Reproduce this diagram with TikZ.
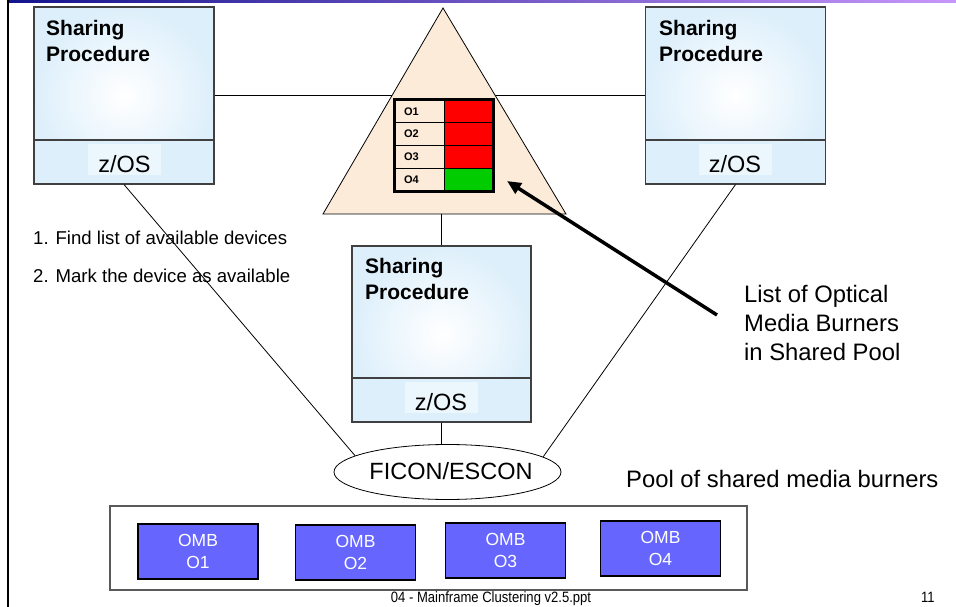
\documentclass[tikz,border=0pt]{standalone}
\usepackage{fontspec}
\setmainfont{Liberation Sans}
\usetikzlibrary{shapes.geometric,arrows.meta}
\definecolor{boxblue}{RGB}{221,239,251}
\definecolor{zosblue}{RGB}{235,246,253}
\definecolor{peach}{RGB}{253,235,218}
\definecolor{ombblue}{RGB}{102,102,255}
\definecolor{okgreen}{RGB}{0,204,0}
\definecolor{barnavy}{RGB}{20,20,140}
\definecolor{barsky}{RGB}{150,205,250}
\definecolor{barviolet}{RGB}{200,150,250}

\begin{document}
\begin{tikzpicture}[x=1bp, y=-1bp]
    \tikzstyle{proc}=[rectangle, draw=black!75, line width=1.1bp, minimum width=180bp, minimum height=177bp, inner color=white, outer color=boxblue]
    \tikzstyle{os}=[rectangle, draw=black!75, line width=1.1bp, fill=boxblue, minimum width=180bp, minimum height=44bp]
    \tikzstyle{os-label}=[fill=zosblue, anchor=south, minimum width=73bp, text height=29bp, text depth=2bp, inner ysep=0pt, font=\fontsize{23.5bp}{28bp}\selectfont]
    \tikzstyle{proc-label}=[anchor=north west, align=left, inner sep=0pt, font=\fontsize{21bp}{26bp}\selectfont\bfseries]
    \tikzstyle{cell}=[rectangle, draw=black, line width=1bp, minimum width=49bp, minimum height=22.75bp, inner sep=0pt]
    \tikzstyle{omb}=[rectangle, draw=black, line width=1.2bp, fill=ombblue, text=white, minimum width=120bp, minimum height=55bp, align=center, font=\fontsize{17.5bp}{22bp}\selectfont]
    \tikzstyle{note}=[anchor=base west, inner sep=0pt, font=\fontsize{18.6bp}{21bp}\selectfont]
    \tikzstyle{big-note}=[anchor=north west, inner sep=0pt, align=left, font=\fontsize{23.8bp}{29bp}\selectfont]
    \tikzstyle{link}=[black, line width=0.8bp]
    \useasboundingbox (0,0) rectangle (956,607);
    % \draw[help lines, step=50] (0,0) grid (956,607);

    \shade[left color=barnavy, middle color=barsky, right color=barviolet] (9,0) rectangle (956,2.5);
    \draw[line width=2.5bp] (8,0) -- (8,607);

    \node[proc] (left) at (124,95.5) {};
    \node[proc] (right) at (735.5,95.5) {};
    \node[proc, minimum width=179bp, minimum height=176bp] (mid) at (441.5,334) {};
    \node[os] (left-os) at (124,162) {};
    \node[os] (right-os) at (735.5,162) {};
    \node[os, minimum width=179bp] (mid-os) at (441.5,400) {};
    \node[os-label] (left-zos) at (124.5,175) {z/OS};
    \node[os-label] (right-zos) at (735,175) {z/OS};
    \node[os-label] (mid-zos) at (441,413) {z/OS};
    \node[proc-label] (left-title) at (46,20) {Sharing\\Procedure};
    \node[proc-label] (right-title) at (659,20) {Sharing\\Procedure};
    \node[proc-label] (mid-title) at (365,258) {Sharing\\Procedure};

    \draw[link] (left.east) -- (right.west);
    \filldraw[fill=peach, draw=black, line width=0.8bp] (443,8) -- (566,214) -- (323,214) -- cycle;
    \coordinate (tri-base) at (441.5,214);

    \foreach \name/\state [count=\i] in {O1/red, O2/red, O3/red, O4/okgreen} {
        \node[cell, fill=peach, text width=31bp, inner xsep=9bp, align=left, font=\fontsize{11bp}{13bp}\selectfont\bfseries] (tag\i) at (419.5,88.625+22.75*\i) {\name};
        \node[cell, fill=\state] (state\i) at (468.5,88.625+22.75*\i) {};
    }
    \draw[line width=3bp] (tag1.north west) rectangle (state4.south east);

    \node[ellipse, draw=black, line width=0.8bp, fill=white, minimum width=227bp, minimum height=55bp, inner sep=0pt] (bus) at (447.5,472) {};
    \node[font=\fontsize{23.5bp}{28bp}\selectfont, inner sep=0pt] (bus-label) at (451,471.5) {FICON/ESCON};

    \draw[link] (tri-base) -- (mid.north);
    \draw[link] (mid-os.south) -- (mid-os.south |- bus.north);
    \draw[link] (left-os.south) -- (bus.170);
    \draw[link] (right-os.south) -- (bus.9);

    \coordinate (arrow-tail) at (717,315);
    \coordinate (arrow-tip) at (507,181);
    \draw[-{Triangle[length=14bp,width=12bp]}, line width=3.5bp] (arrow-tail) -- (arrow-tip);

    \node[note] (step-one) at (33,245) {1. Find list of available devices};
    \node[note] (step-two) at (33,283) {2. Mark the device as available};
    \node[big-note] (list-label) at (744,285) {List of Optical\\Media Burners\\in Shared Pool};
    \node[note, font=\fontsize{23.8bp}{28bp}\selectfont] (pool-label) at (626,487) {Pool of shared media burners};

    \node[rectangle, draw=black!65, line width=1.5bp, minimum width=637bp, minimum height=84bp] (pool) at (428.5,548) {};
    \foreach \n/\x/\y in {1/198/551.5, 2/355.5/552.5, 3/505.5/550.5, 4/660.5/548.5}
        \node[omb] (omb\n) at (\x,\y) {OMB\\O\n};

    \node[anchor=base, inner sep=0pt, font=\fontsize{15bp}{18bp}\selectfont] (footer) at (491,602) {\scalebox{0.87}[1]{04 - Mainframe Clustering v2.5.ppt}};
    \node[anchor=base west, inner sep=0pt, font=\fontsize{15bp}{18bp}\selectfont] (page) at (921,602) {\scalebox{0.87}[1]{11}};
\end{tikzpicture}
\end{document}
